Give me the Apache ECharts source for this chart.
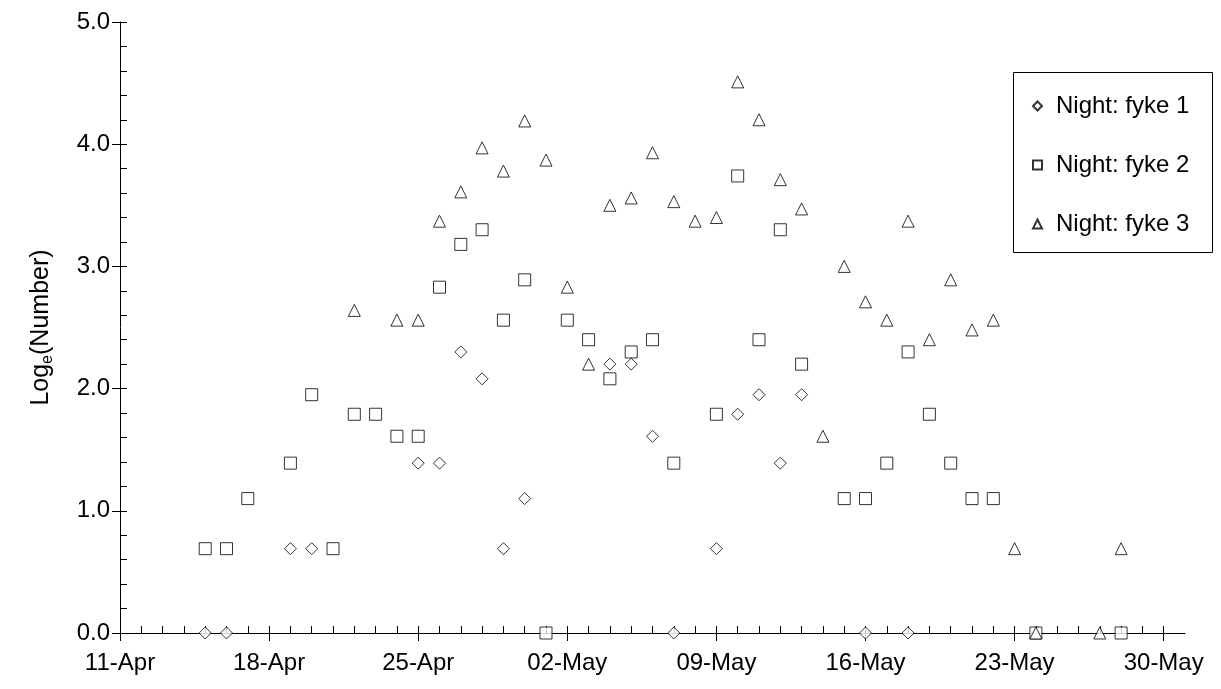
<!DOCTYPE html>
<html>
<head>
<meta charset="utf-8">
<script src="https://cdn.jsdelivr.net/npm/echarts@6/dist/echarts.min.js"></script>
<style>
html,body{margin:0;padding:0;background:#fff;}
#chart{width:1221px;height:689px;}
</style>
</head>
<body>
<div id="chart"></div>
<script>
// ---- data ----
var startDate = '2000-04-11';
var endDate = '2000-05-31';
var xTickLabels = ['11-Apr', '18-Apr', '25-Apr', '02-May', '09-May', '16-May', '23-May', '30-May'];
var yTickLabels = ['0.0', '1.0', '2.0', '3.0', '4.0', '5.0'];
var seriesNames = ['Night: fyke 1', 'Night: fyke 2', 'Night: fyke 3'];

var fyke1Dates = ['2000-04-15','2000-04-16','2000-04-19','2000-04-20','2000-04-25','2000-04-26','2000-04-27','2000-04-28','2000-04-29','2000-04-30','2000-05-04','2000-05-05','2000-05-06','2000-05-07','2000-05-09','2000-05-10','2000-05-11','2000-05-12','2000-05-13','2000-05-16','2000-05-18'];
var fyke1Values = [0, 0, 0.69, 0.69, 1.39, 1.39, 2.30, 2.08, 0.69, 1.10, 2.20, 2.20, 1.61, 0, 0.69, 1.79, 1.95, 1.39, 1.95, 0, 0];

var fyke2Dates = ['2000-04-15','2000-04-16','2000-04-17','2000-04-19','2000-04-20','2000-04-21','2000-04-22','2000-04-23','2000-04-24','2000-04-25','2000-04-26','2000-04-27','2000-04-28','2000-04-29','2000-04-30','2000-05-01','2000-05-02','2000-05-03','2000-05-04','2000-05-05','2000-05-06','2000-05-07','2000-05-09','2000-05-10','2000-05-11','2000-05-12','2000-05-13','2000-05-15','2000-05-16','2000-05-17','2000-05-18','2000-05-19','2000-05-20','2000-05-21','2000-05-22','2000-05-24','2000-05-28'];
var fyke2Values = [0.69, 0.69, 1.10, 1.39, 1.95, 0.69, 1.79, 1.79, 1.61, 1.61, 2.83, 3.18, 3.30, 2.56, 2.89, 0, 2.56, 2.40, 2.08, 2.30, 2.40, 1.39, 1.79, 3.74, 2.40, 3.30, 2.20, 1.10, 1.10, 1.39, 2.30, 1.79, 1.39, 1.10, 1.10, 0, 0];

var fyke3Dates = ['2000-04-22','2000-04-24','2000-04-25','2000-04-26','2000-04-27','2000-04-28','2000-04-29','2000-04-30','2000-05-01','2000-05-02','2000-05-03','2000-05-04','2000-05-05','2000-05-06','2000-05-07','2000-05-08','2000-05-09','2000-05-10','2000-05-11','2000-05-12','2000-05-13','2000-05-14','2000-05-15','2000-05-16','2000-05-17','2000-05-18','2000-05-19','2000-05-20','2000-05-21','2000-05-22','2000-05-23','2000-05-24','2000-05-27','2000-05-28'];
var fyke3Values = [2.64, 2.56, 2.56, 3.37, 3.61, 3.97, 3.78, 4.19, 3.87, 2.83, 2.20, 3.50, 3.56, 3.93, 3.53, 3.37, 3.40, 4.51, 4.20, 3.71, 3.47, 1.61, 3.00, 2.71, 2.56, 3.37, 2.40, 2.89, 2.48, 2.56, 0.69, 0, 0, 0.69];

// ---- helpers ----
function dayOf(s) {
  var p = s.split('-');
  var a = Date.UTC(+p[0], +p[1] - 1, +p[2]);
  var q = startDate.split('-');
  var b = Date.UTC(+q[0], +q[1] - 1, +q[2]);
  return Math.round((a - b) / 86400000);
}
function pairs(dates, values) {
  return dates.map(function (d, i) { return [dayOf(d), values[i]]; });
}
var xMax = dayOf(endDate);
var weekLen = 7;
var yMax = 5;
var yMinorPerMajor = 5;

var W = 1221, H = 689;
var gLeft = 120, gRight = 36, gTop = 22, gBottom = 56;
var gWidth = W - gLeft - gRight, gHeight = H - gTop - gBottom;

var FONT = '"Liberation Sans", Arial, Helvetica, sans-serif';
var black = '#000';

// tick slots for the fine tick axes
var dayCats = [];
for (var i = 0; i <= xMax; i++) dayCats.push(String(i));
var yFineCats = [];
for (var j = 0; j <= yMax * yMinorPerMajor; j++) yFineCats.push(String(j));

var markerStyle = { color: '#fff', borderColor: black, borderWidth: 1 };

var chart = echarts.init(document.getElementById('chart'), null, { renderer: 'canvas' });
chart.setOption({
  animation: false,
  backgroundColor: '#fff',
  textStyle: { fontFamily: FONT, color: black },
  grid: { left: gLeft, right: gRight, top: gTop, bottom: gBottom, containLabel: false, outerBoundsMode: 'none' },
  xAxis: [{
    type: 'value', min: 0, max: xMax, interval: 1,
    axisLine: { show: true, lineStyle: { color: black, width: 1 } },
    axisTick: { show: true, inside: true, length: 7, lineStyle: { color: black, width: 1 } },
    axisLabel: {
      show: true, margin: 18, fontSize: 24, color: black, fontFamily: FONT,
      showMaxLabel: false,
      formatter: function (v) { return v % weekLen === 0 ? (xTickLabels[v / weekLen] || '') : ''; }
    },
    splitLine: { show: false }
  }, {
    type: 'category', data: dayCats, boundaryGap: false, position: 'top', offset: -gHeight,
    axisLine: { show: false },
    axisTick: { show: true, inside: true, length: 8, lineStyle: { color: black, width: 1 },
      interval: function (idx) { return idx % weekLen === 0; } },
    axisLabel: { show: false },
    splitLine: { show: false }
  }],
  yAxis: [{
    type: 'value', min: 0, max: yMax, interval: 1, position: 'left',
    name: '{a|Log}{b|e}{a|(Number)}',
    nameLocation: 'middle', nameRotate: 90, nameGap: 64,
    nameTextStyle: {
      rich: {
        a: { fontSize: 25, fontFamily: FONT, color: black, lineHeight: 30 },
        b: { fontSize: 16, fontFamily: FONT, color: black, verticalAlign: 'bottom', lineHeight: 17 }
      }
    },
    axisLine: { show: true, lineStyle: { color: black, width: 1 } },
    axisTick: { show: true, inside: false, length: 8, lineStyle: { color: black, width: 1 } },
    axisLabel: { margin: 10, fontSize: 24, color: black, fontFamily: FONT,
      formatter: function (v) { return yTickLabels[Math.round(v)]; } },
    splitLine: { show: false }
  }, {
    type: 'category', data: yFineCats, boundaryGap: false, position: 'right', offset: -gWidth,
    axisLine: { show: false },
    axisTick: { show: true, inside: false, length: 7, interval: 0, lineStyle: { color: black, width: 1 } },
    axisLabel: { show: false },
    splitLine: { show: false }
  }],
  legend: {
    orient: 'vertical', left: 1032, top: 94, padding: 0, itemGap: 35,
    itemWidth: 9, itemHeight: 9,
    textStyle: { fontSize: 24, color: black, fontFamily: FONT, lineHeight: 24, padding: [0, 0, 0, 9] },
    data: [
      { name: seriesNames[0], icon: 'diamond' },
      { name: seriesNames[1], icon: 'rect' },
      { name: seriesNames[2], icon: 'triangle' }
    ]
  },
  graphic: [{
    type: 'rect', silent: true, z: 100,
    shape: { x: 1013.5, y: 72.5, width: 199, height: 180 },
    style: { fill: 'none', stroke: black, lineWidth: 1 }
  }],
  series: [{
    name: seriesNames[0], type: 'scatter', symbol: 'diamond', symbolSize: 12,
    xAxisIndex: 0, yAxisIndex: 0, itemStyle: markerStyle,
    data: pairs(fyke1Dates, fyke1Values)
  }, {
    name: seriesNames[1], type: 'scatter', symbol: 'rect', symbolSize: 12,
    xAxisIndex: 0, yAxisIndex: 0, itemStyle: markerStyle,
    data: pairs(fyke2Dates, fyke2Values)
  }, {
    name: seriesNames[2], type: 'scatter', symbol: 'triangle', symbolSize: 12,
    xAxisIndex: 0, yAxisIndex: 0, itemStyle: markerStyle,
    data: pairs(fyke3Dates, fyke3Values)
  }]
});
</script>
</body>
</html>
